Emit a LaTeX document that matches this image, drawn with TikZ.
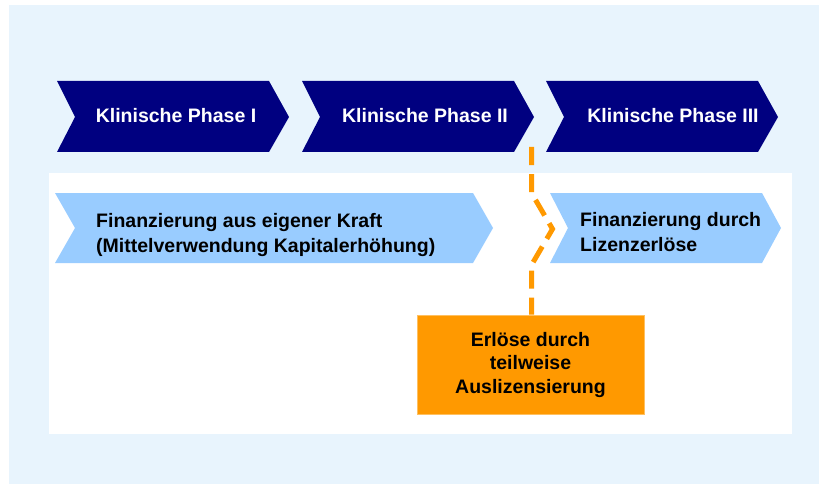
\documentclass[tikz,border=0pt]{standalone}
\usepackage{fontspec}
\setmainfont{Liberation Sans}
\usepackage{xcolor}
\usepackage{tikz}

\definecolor{bgblue}{HTML}{E8F4FD}
\definecolor{navy}{HTML}{000080}
\definecolor{skyblue}{HTML}{99CCFF}
\definecolor{licorange}{HTML}{FF9900}
\definecolor{licrim}{HTML}{FFC060}

\tikzset{
  phasetext/.style={text=white,inner sep=0pt,anchor=base,
    font=\bfseries\fontsize{19.5}{23}\selectfont},
  fintext/.style={align=left,inner sep=0pt,anchor=north west,
    font=\bfseries\fontsize{19.5}{25}\selectfont},
}

\begin{document}
\begin{tikzpicture}[x=1pt,y=-1pt]
\useasboundingbox (0,0) rectangle (819,484);
\fill[bgblue](9,5) rectangle (819,484);
\fill[white](49,173) rectangle (792,434);

% phases
\foreach \x/\c/\t in {57/176/I,302/425/II,546/673/III}{%
\fill[navy](\x,81)-- ++(212,0)-- ++(20,36)
                  -- ++(-20,35)-- ++(-212,0)-- ++(18,-35)--cycle;
\node[phasetext] (phase\t) at (\c,123) {Klinische Phase \t};
}

% financing
\fill[skyblue](55,193)-- ++(418,0)-- ++(20,35)
                      -- ++(-20,35)-- ++(-418,0)-- ++(20,-35)--cycle;
\fill[skyblue](550,193)-- ++(212,0)-- ++(19,35)
                       -- ++(-19,35)-- ++(-212,0)-- ++(18,-35)--cycle;
\node[fintext] (own) at (96,213)
  {Finanzierung aus eigener Kraft\\(Mittelverwendung Kapitalerhöhung)};
\node[fintext] (licence) at (580,212) {Finanzierung durch\\Lizenzerlöse};

\node[fill=licorange,draw=licrim,line width=1pt,inner sep=0pt,
      minimum width=227pt,minimum height=99pt,align=center,
      font=\bfseries\fontsize{19.5}{23.5}\selectfont]
  (deal) at (530.5,364.5) {Erlöse durch\\teilweise\\Auslizensierung};

\coordinate (cut) at (531.5,147);
\draw[licorange,line width=5pt,dash pattern=on 18pt off 9pt]
  (cut)-- ++(0,46)-- ++(21,36)-- ++(-21,36)--(cut |- deal.north);
\end{tikzpicture}
\end{document}
